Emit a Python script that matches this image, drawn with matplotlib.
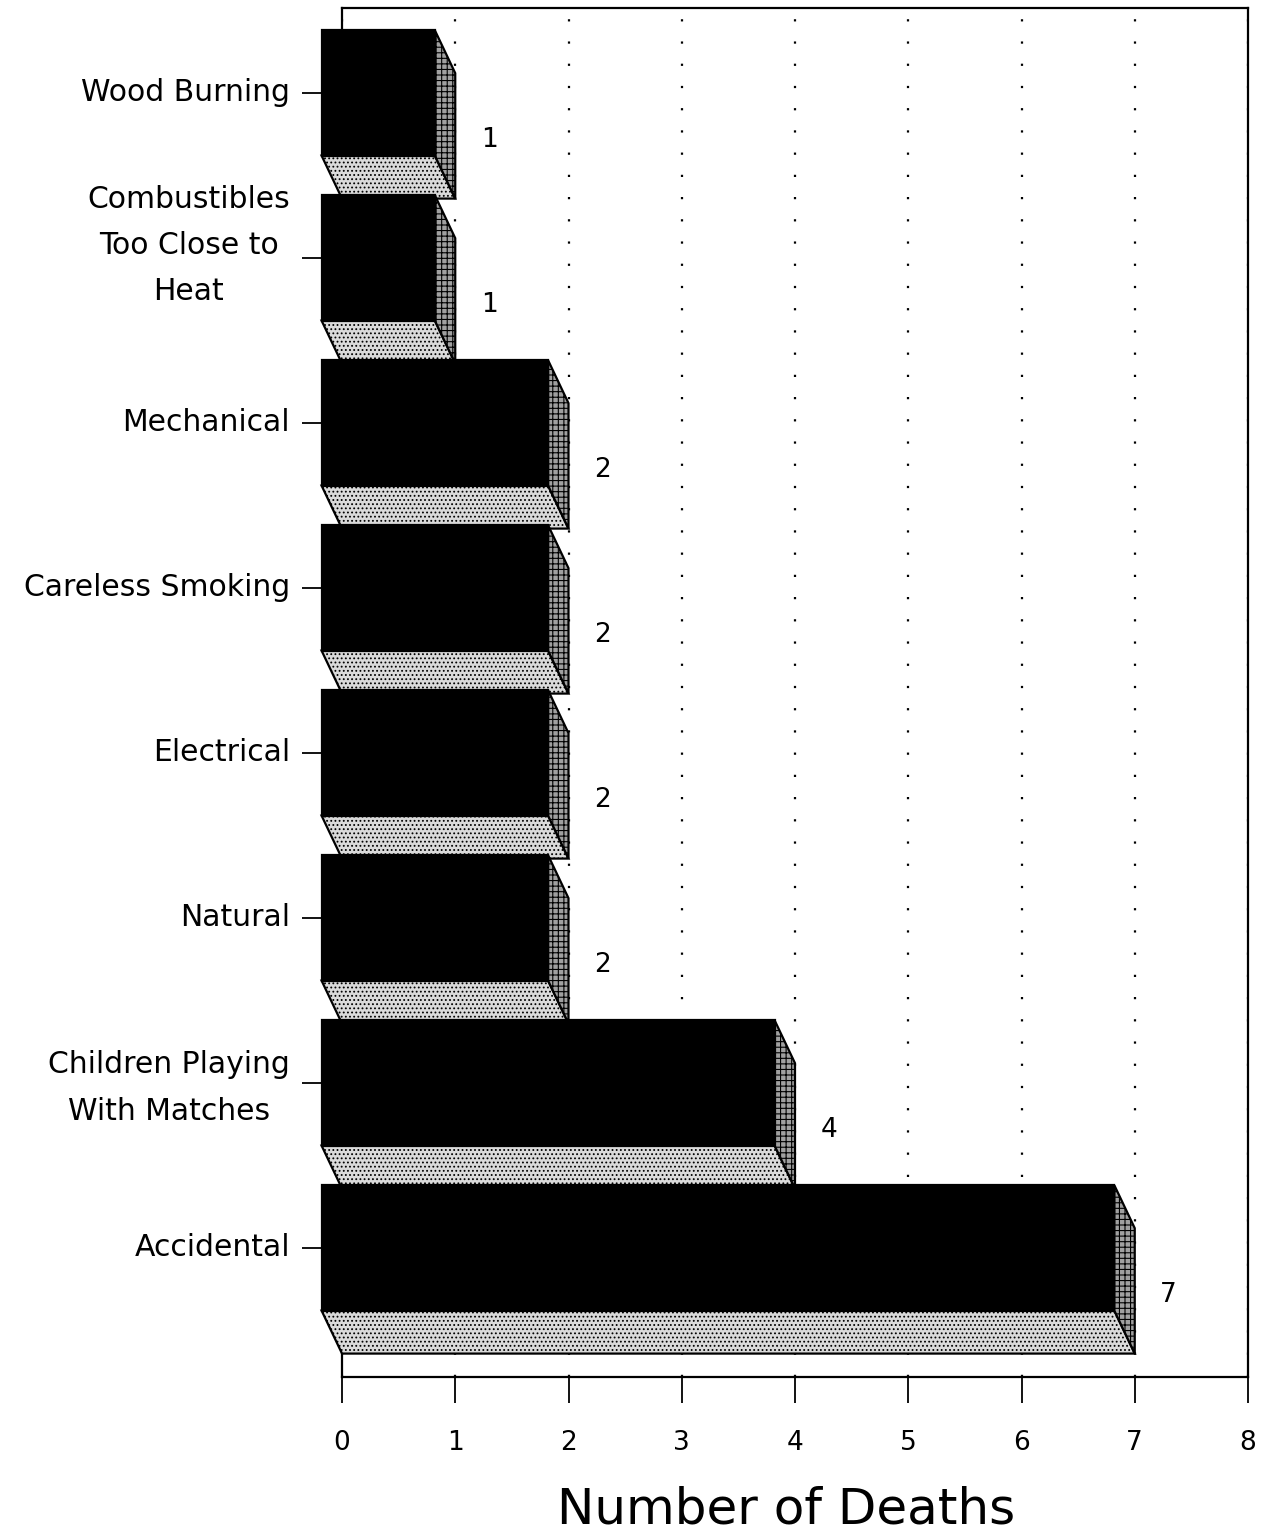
import matplotlib
matplotlib.use('Agg')
import matplotlib.pyplot as plt
from matplotlib.patches import Polygon
from matplotlib.transforms import blended_transform_factory

# data (top to bottom)
categories = ['Wood Burning', 'Combustibles\nToo Close to\nHeat', 'Mechanical',
              'Careless Smoking', 'Electrical', 'Natural',
              'Children Playing\nWith Matches', 'Accidental']
deaths = [1, 1, 2, 2, 2, 2, 4, 7]

plt.rcParams['font.family'] = ['DejaVu Sans']
plt.rcParams['hatch.linewidth'] = 0.8

W, H = 1261, 1536
fig = plt.figure(figsize=(W / 100, H / 100), dpi=100, facecolor='white')
ax = fig.add_axes([342 / W, 1 - 1377 / H, (1248 - 342) / W, (1377 - 8) / H])

# geometry of the pseudo-3D boxes (data units)
DX = 0.18     # depth offset along x
DY = 0.26     # depth offset along y (down)
HALF = 0.38   # half height of the front face

for i, (cat, v) in enumerate(zip(categories, deaths)):
    z = 3 + i
    # bottom face
    bottom = Polygon([(-DX, i + HALF), (v - DX, i + HALF), (v, i + HALF + DY), (0, i + HALF + DY)],
                     closed=True, facecolor='#dadada', edgecolor='black', lw=1.6,
                     hatch='....', zorder=z, clip_on=False)
    ax.add_patch(bottom)
    # side face
    side = Polygon([(v - DX, i - HALF), (v, i - HALF + DY), (v, i + HALF + DY), (v - DX, i + HALF)],
                   closed=True, facecolor='#a0a0a0', edgecolor='black', lw=1.6,
                   hatch='+++', zorder=z, clip_on=False)
    ax.add_patch(side)
    # front face
    front = Polygon([(-DX, i - HALF), (v - DX, i - HALF), (v - DX, i + HALF), (-DX, i + HALF)],
                    closed=True, facecolor='black', edgecolor='black', lw=1.6,
                    zorder=z + 0.5, clip_on=False)
    ax.add_patch(front)
    ax.text(v + 0.30, i + 0.285, str(v), fontsize=19, ha='center', va='center',
            color='black', zorder=20)

ax.set_xlim(0, 8)
ax.set_ylim(-0.515 + 1369 / 165, -0.515)
ax.set_xticks(range(9))
ax.set_yticks(range(len(categories)))
ax.set_yticklabels([])
ax.tick_params(axis='y', length=29, width=1.3, direction='out')
ax.tick_params(axis='x', length=19, width=1.3, direction='out', pad=19, labelsize=19)

# category labels, drawn as text so the multi-line ones sit like the original
trans = blended_transform_factory(fig.transFigure, ax.transData)
label_shift = {1: -0.076, 6: 0.03}
for i, cat in enumerate(categories):
    ax.text(290 / W, i + label_shift.get(i, 0), cat, transform=trans, fontsize=21.5,
            ha='right', va='center', multialignment='center', linespacing=1.75)

ax.xaxis.grid(True, color='black', linestyle=(0, (1, 9)), linewidth=1.6, zorder=1)
ax.set_axisbelow(True)
for s in ax.spines.values():
    s.set_linewidth(1.6)

ax.set_xlabel('Number of Deaths', fontsize=36)
ax.xaxis.set_label_coords(0.49, -(1510 - 1377) / 1369)
ax.xaxis.label.set_va('center')

fig.savefig('out.png', dpi=100, facecolor='white')
